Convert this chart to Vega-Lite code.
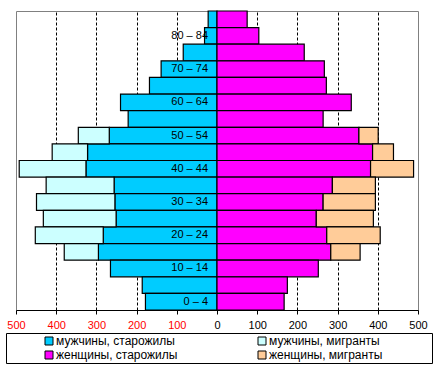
{
  "$schema": "https://vega.github.io/schema/vega-lite/v6.json",
  "autosize": {"type": "none"},
  "padding": {"left": 16, "top": 11, "right": 16, "bottom": 58},
  "width": 402,
  "height": 299,
  "background": "white",
  "config": {
    "font": "Liberation Sans",
    "view": {"stroke": "#808080", "strokeWidth": 1}
  },
  "datasets": {
    "bars": [
      {"age": "85+", "series": "мужчины, старожилы", "status": "старожилы", "v": -22},
      {"age": "80 – 84", "series": "мужчины, старожилы", "status": "старожилы", "v": -31},
      {"age": "75 – 79", "series": "мужчины, старожилы", "status": "старожилы", "v": -84},
      {"age": "70 – 74", "series": "мужчины, старожилы", "status": "старожилы", "v": -139},
      {"age": "65 – 69", "series": "мужчины, старожилы", "status": "старожилы", "v": -168},
      {"age": "60 – 64", "series": "мужчины, старожилы", "status": "старожилы", "v": -240},
      {"age": "55 – 59", "series": "мужчины, старожилы", "status": "старожилы", "v": -221},
      {"age": "50 – 54", "series": "мужчины, старожилы", "status": "старожилы", "v": -268},
      {"age": "45 – 49", "series": "мужчины, старожилы", "status": "старожилы", "v": -322},
      {"age": "40 – 44", "series": "мужчины, старожилы", "status": "старожилы", "v": -326},
      {"age": "35 – 39", "series": "мужчины, старожилы", "status": "старожилы", "v": -256},
      {"age": "30 – 34", "series": "мужчины, старожилы", "status": "старожилы", "v": -254},
      {"age": "25 – 29", "series": "мужчины, старожилы", "status": "старожилы", "v": -251},
      {"age": "20 – 24", "series": "мужчины, старожилы", "status": "старожилы", "v": -283},
      {"age": "15 – 19", "series": "мужчины, старожилы", "status": "старожилы", "v": -295},
      {"age": "10 – 14", "series": "мужчины, старожилы", "status": "старожилы", "v": -265},
      {"age": "5 – 9", "series": "мужчины, старожилы", "status": "старожилы", "v": -186},
      {"age": "0 – 4", "series": "мужчины, старожилы", "status": "старожилы", "v": -178},
      {"age": "50 – 54", "series": "мужчины, мигранты", "status": "мигранты", "v": -77},
      {"age": "45 – 49", "series": "мужчины, мигранты", "status": "мигранты", "v": -88},
      {"age": "40 – 44", "series": "мужчины, мигранты", "status": "мигранты", "v": -166},
      {"age": "35 – 39", "series": "мужчины, мигранты", "status": "мигранты", "v": -169},
      {"age": "30 – 34", "series": "мужчины, мигранты", "status": "мигранты", "v": -195},
      {"age": "25 – 29", "series": "мужчины, мигранты", "status": "мигранты", "v": -181},
      {"age": "20 – 24", "series": "мужчины, мигранты", "status": "мигранты", "v": -169},
      {"age": "15 – 19", "series": "мужчины, мигранты", "status": "мигранты", "v": -85},
      {"age": "85+", "series": "женщины, старожилы", "status": "старожилы", "v": 75},
      {"age": "80 – 84", "series": "женщины, старожилы", "status": "старожилы", "v": 104},
      {"age": "75 – 79", "series": "женщины, старожилы", "status": "старожилы", "v": 217},
      {"age": "70 – 74", "series": "женщины, старожилы", "status": "старожилы", "v": 267},
      {"age": "65 – 69", "series": "женщины, старожилы", "status": "старожилы", "v": 272},
      {"age": "60 – 64", "series": "женщины, старожилы", "status": "старожилы", "v": 334},
      {"age": "55 – 59", "series": "женщины, старожилы", "status": "старожилы", "v": 264},
      {"age": "50 – 54", "series": "женщины, старожилы", "status": "старожилы", "v": 353},
      {"age": "45 – 49", "series": "женщины, старожилы", "status": "старожилы", "v": 387},
      {"age": "40 – 44", "series": "женщины, старожилы", "status": "старожилы", "v": 382},
      {"age": "35 – 39", "series": "женщины, старожилы", "status": "старожилы", "v": 287},
      {"age": "30 – 34", "series": "женщины, старожилы", "status": "старожилы", "v": 264},
      {"age": "25 – 29", "series": "женщины, старожилы", "status": "старожилы", "v": 247},
      {"age": "20 – 24", "series": "женщины, старожилы", "status": "старожилы", "v": 273},
      {"age": "15 – 19", "series": "женщины, старожилы", "status": "старожилы", "v": 283},
      {"age": "10 – 14", "series": "женщины, старожилы", "status": "старожилы", "v": 252},
      {"age": "5 – 9", "series": "женщины, старожилы", "status": "старожилы", "v": 175},
      {"age": "0 – 4", "series": "женщины, старожилы", "status": "старожилы", "v": 167},
      {"age": "50 – 54", "series": "женщины, мигранты", "status": "мигранты", "v": 48},
      {"age": "45 – 49", "series": "женщины, мигранты", "status": "мигранты", "v": 52},
      {"age": "40 – 44", "series": "женщины, мигранты", "status": "мигранты", "v": 107},
      {"age": "35 – 39", "series": "женщины, мигранты", "status": "мигранты", "v": 107},
      {"age": "30 – 34", "series": "женщины, мигранты", "status": "мигранты", "v": 130},
      {"age": "25 – 29", "series": "женщины, мигранты", "status": "мигранты", "v": 142},
      {"age": "20 – 24", "series": "женщины, мигранты", "status": "мигранты", "v": 133},
      {"age": "15 – 19", "series": "женщины, мигранты", "status": "мигранты", "v": 73}
    ],
    "labels": [
      {"age": "80 – 84"}, {"age": "70 – 74"}, {"age": "60 – 64"}, {"age": "50 – 54"},
      {"age": "40 – 44"}, {"age": "30 – 34"}, {"age": "20 – 24"}, {"age": "10 – 14"}, {"age": "0 – 4"}
    ]
  },
  "layer": [
    {
      "data": {"name": "bars"},
      "mark": {"type": "bar", "stroke": "black", "strokeWidth": 1.2, "opacity": 1},
      "encoding": {
        "y": {
          "field": "age", "type": "nominal",
          "scale": {"domain": ["85+", "80 – 84", "75 – 79", "70 – 74", "65 – 69", "60 – 64", "55 – 59", "50 – 54", "45 – 49", "40 – 44", "35 – 39", "30 – 34", "25 – 29", "20 – 24", "15 – 19", "10 – 14", "5 – 9", "0 – 4"], "paddingInner": 0, "paddingOuter": 0},
          "axis": null
        },
        "x": {
          "field": "v", "type": "quantitative", "stack": "zero",
          "scale": {"domain": [-500, 500], "nice": false, "zero": false},
          "axis": {
            "title": null,
            "values": [-500, -400, -300, -200, -100, 0, 100, 200, 300, 400, 500],
            "labelExpr": "abs(datum.value)",
            "labelColor": {"condition": {"test": "datum.value < 0", "value": "#FF0000"}, "value": "black"},
            "labelFontSize": 11,
            "labelFont": "Liberation Sans",
            "labelPadding": 5,
            "labelFlush": false,
            "tickColor": "black",
            "tickSize": 4,
            "domainColor": "black",
            "grid": true,
            "gridColor": "black",
            "gridDash": [3, 2],
            "gridOpacity": {"condition": {"test": "abs(datum.value) == 500 || datum.value == 0", "value": 0}, "value": 1}
          }
        },
        "order": {"field": "status", "sort": "descending"},
        "color": {
          "field": "series", "type": "nominal",
          "scale": {
            "domain": ["мужчины, старожилы", "мужчины, мигранты", "женщины, старожилы", "женщины, мигранты"],
            "range": ["#00CCFF", "#CCFFFF", "#FF00FF", "#FFCC99"]
          },
          "legend": {
            "orient": "none",
            "legendX": -10,
            "legendY": 322,
            "columns": 2,
            "direction": "horizontal",
            "title": "\u200b",
            "titleOrient": "right",
            "titleFontSize": 12,
            "titlePadding": 48,
            "strokeColor": "black",
            "padding": 2,
            "rowPadding": 2,
            "columnPadding": 43,
            "symbolType": "square",
            "symbolSize": 64,
            "symbolOffset": 35,
            "symbolStrokeColor": "black",
            "symbolStrokeWidth": 1,
            "symbolOpacity": 1,
            "labelFontSize": 12,
            "labelFont": "Liberation Sans",
            "labelColor": "black",
            "labelOffset": 1,
            "labelLimit": 400
          }
        }
      }
    },
    {
      "data": {"name": "labels"},
      "mark": {"type": "text", "align": "right", "baseline": "middle", "dx": -9, "fontSize": 11, "font": "Liberation Sans", "color": "black"},
      "encoding": {
        "y": {"field": "age", "type": "nominal"},
        "x": {"datum": 0},
        "text": {"field": "age"}
      }
    }
  ]
}
